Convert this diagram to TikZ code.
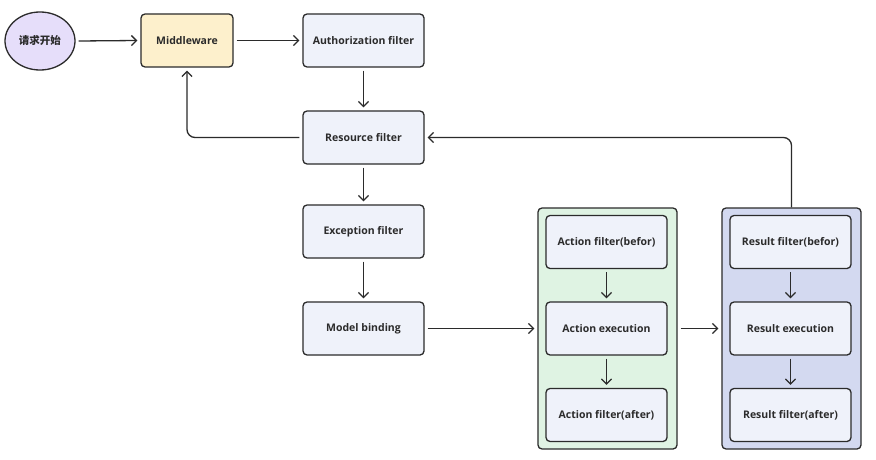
\documentclass[tikz,border=0pt]{standalone}
\usepackage{fontspec}
\setmainfont{Open Sans}
\newfontfamily\cjk{Noto Sans CJK SC}
\usetikzlibrary{arrows.meta,positioning,shapes.geometric}
\definecolor{boxfill}{HTML}{EFF2FA}
\definecolor{mwfill}{HTML}{FDF0CC}
\definecolor{startfill}{HTML}{E6DEFA}
\definecolor{greenbg}{HTML}{DFF3E3}
\definecolor{bluebg}{HTML}{D3D9F0}
\definecolor{edge}{HTML}{2B2B2B}
\tikzset{
  x=1pt,y=-1pt,
  proc/.style={draw=edge,line width=1.3pt,rounded corners=4pt,fill=boxfill,minimum width=121pt,minimum height=53pt,inner sep=0pt,font=\fontsize{10.5}{12}\selectfont\bfseries,text=edge},
  cont/.style={draw=edge,line width=1.3pt,rounded corners=4pt,minimum width=139pt,minimum height=241pt,inner sep=0pt},
  conn/.style={draw=edge,line width=1.3pt,-{Straight Barb[length=5pt,width=10pt,line width=1.3pt]}},
}
\begin{document}
\begin{tikzpicture}
\useasboundingbox (0,0) rectangle (876,460);
\fill[white] (0,0) rectangle (876,460);
\node[cont,fill=greenbg] (green) at (607.5,328.5) {};
\node[cont,fill=bluebg] (blue) at (791.5,328.5) {};
\node[draw=edge,line width=1.3pt,fill=startfill,ellipse,minimum width=70pt,minimum height=58pt,inner sep=0pt,font=\fontsize{10.5}{12}\selectfont\cjk\bfseries,text=edge] (start) at (40,41) {请求开始};
\node[proc,fill=mwfill,minimum width=92pt] (mw) at (187,40.5) {Middleware};
\node[proc] (auth) at (363.5,40.5) {Authorization filter};
\node[proc] (res) at (363.5,137.5) {Resource filter};
\node[proc] (exc) at (363.5,231.5) {Exception filter};
\node[proc] (model) at (363.5,328.5) {Model binding};
\node[proc] (ab) at (606.5,242) {Action filter(befor)};
\node[proc] (ae) at (606.5,328.5) {Action execution};
\node[proc] (aa) at (606.5,415) {Action filter(after)};
\node[proc] (rb) at (790.5,242) {Result filter(befor)};
\node[proc] (re) at (790.5,328.5) {Result execution};
\node[proc] (ra) at (790.5,415) {Result filter(after)};
\draw[conn] ([xshift=3pt]start.east) -- ([xshift=-3pt]mw.west);
\draw[conn] ([xshift=3pt]mw.east) -- ([xshift=-3pt]auth.west);
\draw[conn] ([yshift=-3pt]auth.south) -- ([yshift=3pt]res.north);
\draw[conn,rounded corners=8pt] ([xshift=-3pt]res.west) -| ([yshift=-3pt]mw.south);
\draw[conn] ([yshift=-3pt]res.south) -- ([yshift=3pt]exc.north);
\draw[conn] ([yshift=-3pt]exc.south) -- ([yshift=3pt]model.north);
\draw[conn] ([xshift=3pt]model.east) -- ([xshift=-3pt]green.west);
\draw[conn] ([yshift=-3pt]ab.south) -- ([yshift=3pt]ae.north);
\draw[conn] ([yshift=-3pt]ae.south) -- ([yshift=3pt]aa.north);
\draw[conn] ([xshift=3pt]green.east) -- ([xshift=-3pt]blue.west);
\draw[conn] ([yshift=-3pt]rb.south) -- ([yshift=3pt]re.north);
\draw[conn] ([yshift=-3pt]re.south) -- ([yshift=3pt]ra.north);
\draw[conn,rounded corners=8pt] (blue.north) |- ([xshift=3pt]res.east);
\end{tikzpicture}
\end{document}
